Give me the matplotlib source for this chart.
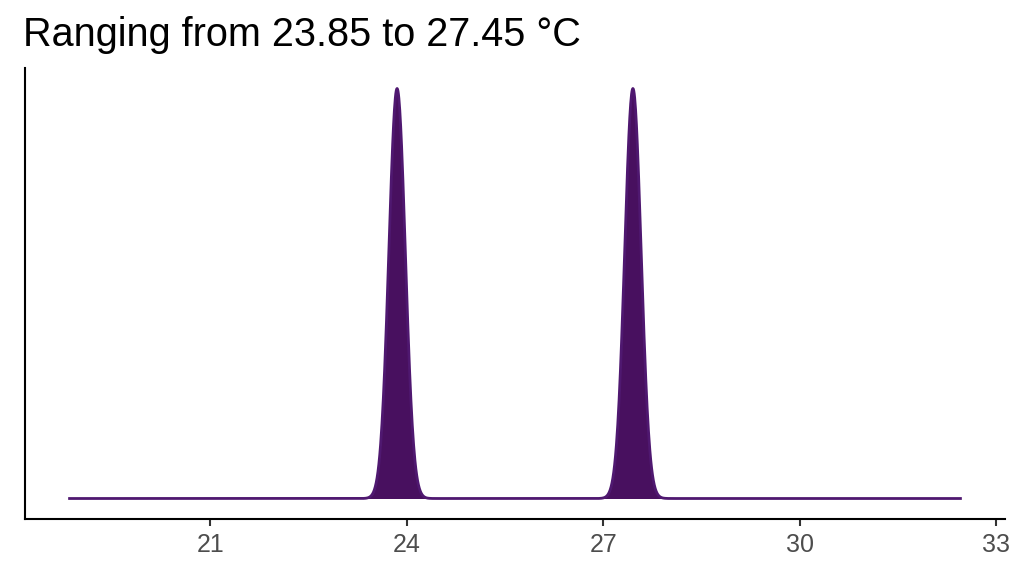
import numpy as np
import matplotlib
matplotlib.use("Agg")
import matplotlib.pyplot as plt

# observed temperatures (degrees C)
temps = [23.85, 27.45]
bandwidth = 0.125
x_ticks = [21, 24, 27, 30, 33]
title = "Ranging from 23.85 to 27.45 °C"

fill_color = "#48105f"
line_color = "#4f1870"


def main():
    lo, hi = min(temps) - 5, max(temps) + 5
    grid = np.linspace(lo, hi, 2000)
    # gaussian kernel density estimate from the observations
    dens = np.zeros_like(grid)
    for t in temps:
        dens += np.exp(-0.5 * ((grid - t) / bandwidth) ** 2)
    dens /= len(temps) * bandwidth * np.sqrt(2 * np.pi)

    fig = plt.figure(figsize=(10.24, 5.76), dpi=100)
    ax = fig.add_axes([25 / 1024, 57 / 576, 980 / 1024, 451 / 576])

    ax.fill_between(grid, 0, dens, color=fill_color, linewidth=0)
    ax.plot(grid, dens, color=line_color, lw=2)

    span = hi - lo
    ax.set_xlim(lo - 0.05 * span, hi + 0.05 * span)
    top = dens.max()
    ax.set_ylim(-0.05 * top, 1.05 * top)

    ax.set_xticks(x_ticks)
    ax.set_yticks([])
    ax.tick_params(axis="x", length=5, width=1.5, color="#333333",
                   labelsize=18, labelcolor="#4d4d4d", pad=5,
                   labelfontfamily="Liberation Sans")
    for side in ["top", "right"]:
        ax.spines[side].set_visible(False)
    for side in ["left", "bottom"]:
        ax.spines[side].set_linewidth(1.5)
        ax.spines[side].set_color("black")

    fig.text(23 / 1024, 1 - 35 / 576, title, fontsize=28.5,
             family="Liberation Sans", va="center", ha="left")

    fig.savefig("out.png", dpi=100)


if __name__ == "__main__":
    main()
